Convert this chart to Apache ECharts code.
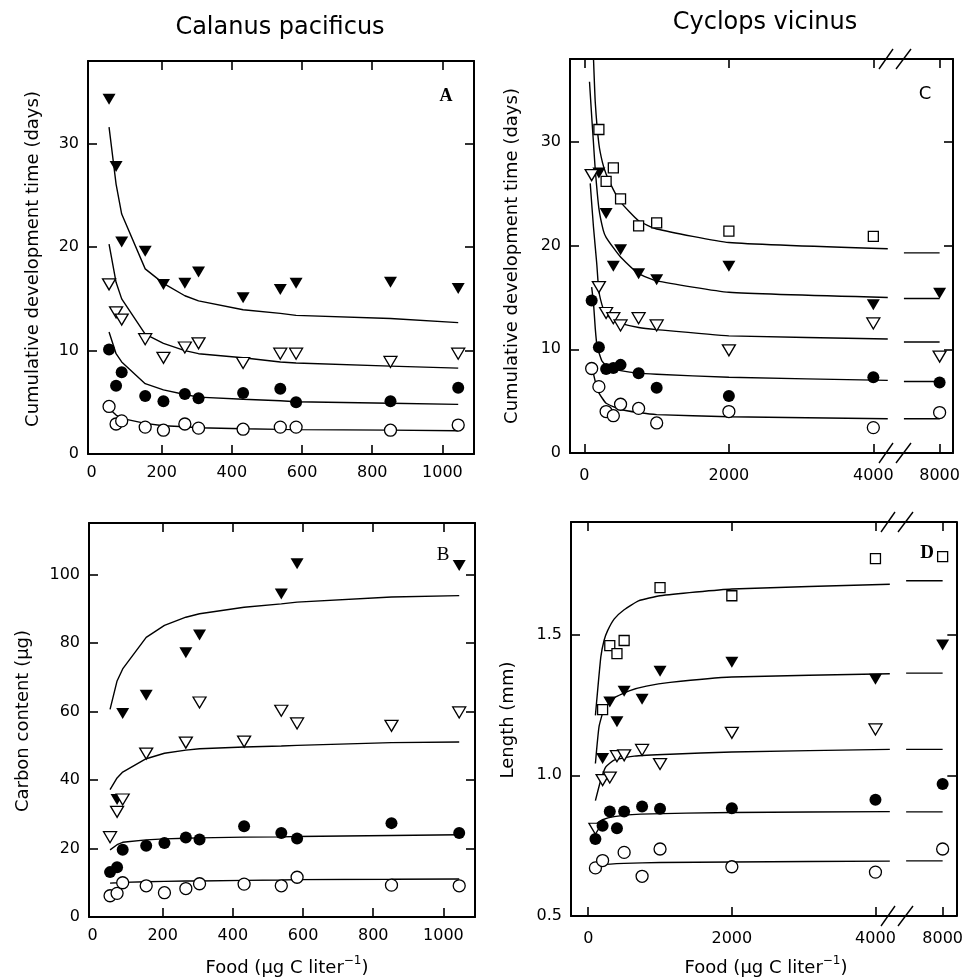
<!DOCTYPE html>
<html>
<head>
<meta charset="utf-8">
<script src="https://cdn.jsdelivr.net/npm/echarts@6/dist/echarts.min.js"></script>
<style>
  html, body { margin: 0; padding: 0; background: #fff; }
  #chart { width: 966px; height: 978px; }
</style>
</head>
<body>
<div id="chart"></div>
<script>
// ---------- Calanus pacificus (panels A and B) ----------
const calanusFood = [50, 70, 86, 153, 205, 266, 305, 432, 538, 583, 852, 1045];
const calanusXTicks = [0, 200, 400, 600, 800, 1000];

// A: cumulative development time (days)
const devFilledTriA    = [34.3, 27.8, 20.5, 19.6, 16.4, 16.5, 17.6, 15.1, 15.9, 16.5, 16.6, 16.0];
const devOpenTriA      = [16.4, 13.7, 13.0, 11.1, 9.3, 10.3, 10.7, 8.8, 9.7, 9.7, 8.9, 9.7];
const devFilledCircleA = [10.1, 6.6, 7.9, 5.6, 5.1, 5.8, 5.4, 5.9, 6.3, 5.0, 5.1, 6.4];
const devOpenCircleA   = [4.6, 2.9, 3.2, 2.6, 2.3, 2.9, 2.5, 2.4, 2.6, 2.6, 2.3, 2.8];

const fitFilledTriA    = [31.6, 26.1, 23.2, 17.9, 16.5, 15.3, 14.8, 13.95, 13.6, 13.4, 13.1, 12.7];
const fitOpenTriA      = [20.3, 16.6, 15.0, 11.6, 10.7, 10.0, 9.7, 9.3, 8.9, 8.8, 8.5, 8.3];
const fitFilledCircleA = [11.8, 9.7, 8.9, 6.8, 6.2, 5.75, 5.5, 5.3, 5.15, 5.05, 4.9, 4.8];
const fitOpenCircleA   = [4.4, 3.76, 3.44, 2.96, 2.73, 2.63, 2.54, 2.44, 2.38, 2.36, 2.31, 2.25];
const devYTicks = [0, 10, 20, 30];

// B: carbon content (ug)
const carbonFilledTri    = [null, 34.3, 59.4, 64.7, null, 77.1, 82.3, null, 94.3, 103.1, null, 102.6];
const carbonOpenTri      = [23.3, 30.7, 34.3, 47.7, null, 50.9, 62.6, 51.2, 60.2, 56.5, 55.8, 59.7];
const carbonFilledCircle = [13.1, 14.5, 19.6, 20.8, 21.6, 23.2, 22.6, 26.5, 24.5, 22.9, 27.4, 24.5];
const carbonOpenCircle   = [6.2, 6.9, 10.0, 9.1, 7.1, 8.3, 9.7, 9.6, 9.1, 11.6, 9.3, 9.1];

const fitCarbonFilledTri    = [60.6, 68.9, 72.4, 81.6, 85.1, 87.5, 88.5, 90.4, 91.4, 91.9, 93.4, 93.8];
const fitCarbonOpenTri      = [37.2, 40.6, 42.3, 46.2, 47.8, 48.7, 49.1, 49.6, 49.9, 50.1, 50.9, 51.1];
const fitCarbonFilledCircle = [19.6, 21.1, 21.8, 22.5, 22.8, 23.0, 23.1, 23.3, 23.4, 23.5, 23.8, 24.0];
const fitCarbonOpenCircle   = [9.9, 10.0, 10.1, 10.3, 10.4, 10.5, 10.5, 10.7, 10.8, 10.9, 11.0, 11.1];
const carbonYTicks = [0, 20, 40, 60, 80, 100];

// ---------- Cyclops vicinus (panels C and D) ----------
const cyclopsFood = [100, 200, 300, 400, 500, 750, 1000, 2000, 4000];
const cyclopsXTicks = [0, 2000, 4000];
const cyclopsHighFood = [8000];             // shown beyond the axis break
const cyclopsHighFit = [6400, 8000];        // fitted level drawn beyond the break

// C: cumulative development time (days)
const devSquareC       = [null, 31.2, 26.2, 27.5, 24.5, 21.9, 22.2, 21.4, 20.9];
const devFilledTriC    = [null, 27.0, 23.1, 18.0, 19.6, 17.3, 16.7, 18.0, 14.3];
const devOpenTriC      = [26.8, 16.0, 13.5, 13.0, 12.3, 13.0, 12.3, 9.9, 12.5];
const devFilledCircleC = [14.7, 10.2, 8.1, 8.2, 8.5, 7.7, 6.3, 5.5, 7.3];
const devOpenCircleC   = [8.15, 6.4, 4.0, 3.6, 4.7, 4.3, 2.9, 4.0, 2.45];
const devFilledTriC8000    = [15.4];
const devOpenTriC8000      = [9.3];
const devFilledCircleC8000 = [6.8];
const devOpenCircleC8000   = [3.9];

const fitSquareCx = [100, 125, 150, 200, 250, 300, 400, 500, 750, 1000, 2000, 4200];
const fitSquareC  = [43, 38.1, 33.8, 29.8, 28.0, 26.9, 25.4, 24.2, 22.4, 21.6, 20.3, 19.7];
const fitFilledTriCx = [70, 100, 125, 150, 200, 260, 300, 400, 500, 750, 1000, 2000, 4200];
const fitFilledTriC  = [35.8, 32.5, 29.9, 27.3, 23.6, 21.5, 20.8, 19.8, 18.9, 17.3, 16.6, 15.5, 15.0];
const fitOpenTriCx = [80, 125, 170, 200, 260, 300, 400, 500, 750, 1000, 2000, 4200];
const fitOpenTriC  = [26.0, 21.8, 18.3, 15.6, 13.9, 13.4, 12.8, 12.5, 12.1, 11.9, 11.3, 11.0];
const fitFilledCircleCx = [100, 125, 150, 175, 240, 300, 400, 500, 750, 1000, 2000, 4200];
const fitFilledCircleC  = [16.0, 14.5, 12.0, 10.3, 8.9, 8.45, 8.15, 7.95, 7.7, 7.6, 7.3, 7.0];
const fitOpenCircleCx = [100, 150, 200, 300, 500, 750, 1000, 2000, 4200];
const fitOpenCircleC  = [8.4, 6.9, 5.8, 4.8, 4.2, 3.9, 3.7, 3.5, 3.3];
const fitSquareC8000       = [19.3, 19.3];
const fitFilledTriC8000    = [14.9, 14.9];
const fitOpenTriC8000      = [10.7, 10.7];
const fitFilledCircleC8000 = [6.9, 6.9];
const fitOpenCircleC8000   = [3.3, 3.3];

// D: length (mm)
const lenSquare       = [null, 1.233, 1.461, 1.432, 1.479, null, 1.667, 1.638, 1.770];
const lenFilledTri    = [null, 1.060, 1.260, 1.190, 1.299, 1.270, 1.370, 1.402, 1.341];
const lenOpenTri      = [0.81, 0.983, 0.992, 1.068, 1.071, 1.090, 1.040, 1.151, 1.163];
const lenFilledCircle = [0.774, 0.821, 0.871, 0.812, 0.871, 0.889, 0.881, 0.883, 0.913];
const lenOpenCircle   = [0.671, 0.697, null, null, 0.726, 0.641, 0.738, 0.675, 0.656];
const lenSquare8000       = [1.777];
const lenFilledTri8000    = [1.463];
const lenFilledCircle8000 = [0.969];
const lenOpenCircle8000   = [0.738];

const fitLenSquareX = [100, 175, 220, 270, 360, 500, 700, 1000, 2000, 4200];
const fitLenSquare  = [1.213, 1.42, 1.479, 1.514, 1.555, 1.588, 1.620, 1.638, 1.662, 1.679];
const fitLenFilledTriX = [100, 150, 220, 360, 590, 810, 1140, 2000, 4200];
const fitLenFilledTri  = [1.042, 1.172, 1.235, 1.275, 1.302, 1.317, 1.330, 1.349, 1.361];
const fitLenOpenTriX = [100, 175, 245, 360, 640, 1140, 2000, 4200];
const fitLenOpenTri  = [0.91, 0.983, 1.030, 1.054, 1.068, 1.075, 1.083, 1.092];
const fitLenFilledCircleX = [100, 200, 360, 730, 2000, 4200];
const fitLenFilledCircle  = [0.825, 0.842, 0.853, 0.862, 0.868, 0.871];
const fitLenOpenCircleX = [110, 200, 500, 1000, 2000, 4200];
const fitLenOpenCircle  = [0.672, 0.682, 0.687, 0.690, 0.692, 0.695];
const fitLenSquare8000       = [1.691, 1.691];
const fitLenFilledTri8000    = [1.363, 1.363];
const fitLenOpenTri8000      = [1.092, 1.092];
const fitLenFilledCircle8000 = [0.870, 0.870];
const fitLenOpenCircle8000   = [0.696, 0.696];
const lenYTicks = [0.5, 1.0, 1.5];

// ---------- chart construction ----------
const FONT = "'DejaVu Sans', 'Liberation Sans', sans-serif";
const SERIF = "'Liberation Serif', 'DejaVu Serif', serif";
const BLACK = '#000';

const MARKERS = {
  filledTri:    { symbol: 'triangle', symbolRotate: 180, symbolSize: [13, 11], itemStyle: { color: BLACK, opacity: 1 } },
  openTri:      { symbol: 'triangle', symbolRotate: 180, symbolSize: [13, 11], itemStyle: { color: '#fff', borderColor: BLACK, borderWidth: 1.3, opacity: 1 } },
  filledCircle: { symbol: 'circle', symbolSize: 12, itemStyle: { color: BLACK, opacity: 1 } },
  openCircle:   { symbol: 'circle', symbolSize: 12, itemStyle: { color: '#fff', borderColor: BLACK, borderWidth: 1.3, opacity: 1 } },
  openSquare:   { symbol: 'rect', symbolSize: 10, itemStyle: { color: '#fff', borderColor: BLACK, borderWidth: 1.3, opacity: 1 } }
};

const grids = [], xAxes = [], yAxes = [], series = [], graphic = [];

function pairs(xs, ys) {
  const out = [];
  xs.forEach((x, i) => { if (ys[i] != null) out.push([x, ys[i]]); });
  return out;
}

// Frame side: axis line, inward ticks at tickVals, optional labels
function axisCfg(gridIndex, position, min, max, tickVals, labelVals, margin, fmt) {
  return {
    type: 'value', gridIndex, position, min, max,
    axisLine: { show: true, onZero: false, lineStyle: { color: BLACK, width: 2 } },
    axisTick: tickVals && tickVals.length
      ? { show: true, inside: true, length: 9, customValues: tickVals, lineStyle: { color: BLACK, width: 1.6 } }
      : { show: false },
    axisLabel: labelVals
      ? { show: true, customValues: labelVals, margin, color: BLACK, fontSize: 16, fontFamily: FONT,
          formatter: fmt || (v => String(v)) }
      : { show: false },
    splitLine: { show: false }
  };
}
const addX = (...a) => xAxes.push(axisCfg(...a)) - 1;
const addY = (...a) => yAxes.push(axisCfg(...a)) - 1;

function addPoints(xs, ys, marker, xi, yi) {
  series.push(Object.assign({
    type: 'scatter', xAxisIndex: xi, yAxisIndex: yi, data: pairs(xs, ys),
    clip: false, z: 4, silent: true
  }, MARKERS[marker]));
}

function addCurve(xs, ys, xi, yi, smooth) {
  series.push({
    type: 'line', xAxisIndex: xi, yAxisIndex: yi, data: pairs(xs, ys),
    showSymbol: false, symbol: 'none', smooth: smooth || false,
    clip: true, z: 3, silent: true,
    lineStyle: { color: BLACK, width: 1.4 }
  });
}

function addText(text, x, y, style, rotation) {
  graphic.push({
    type: 'text', x, y, rotation: rotation || 0, silent: true, z: 20,
    style: Object.assign({
      text, fill: BLACK, fontFamily: FONT, fontSize: 18,
      align: 'center', verticalAlign: 'middle',
      textAlign: 'center', textVerticalAlign: 'middle'
    }, style || {})
  });
}

function addBreak(xJoin, y) {
  [[-16, -2], [1, 16]].forEach(([a, b]) => {
    graphic.push({
      type: 'line', silent: true, z: 20,
      shape: { x1: xJoin + a, y1: y + 10, x2: xJoin + b, y2: y - 10 },
      style: { stroke: BLACK, lineWidth: 1.4 }
    });
  });
}

const SMOOTH_C = 0.15;

// Panel A
grids.push({ left: 88, top: 61, width: 386, height: 393 });
const axA = addX(0, 'bottom', -10, 1090, calanusXTicks.slice(1), calanusXTicks, 11);
addX(0, 'top', -10, 1090, calanusXTicks.slice(1), null);
const ayA = addY(0, 'left', 0, 38, devYTicks.slice(1), devYTicks, 9);
addY(0, 'right', 0, 38, devYTicks.slice(1), null);
addCurve(calanusFood, fitFilledTriA, axA, ayA);
addCurve(calanusFood, fitOpenTriA, axA, ayA);
addCurve(calanusFood, fitFilledCircleA, axA, ayA);
addCurve(calanusFood, fitOpenCircleA, axA, ayA);
addPoints(calanusFood, devFilledTriA, 'filledTri', axA, ayA);
addPoints(calanusFood, devOpenTriA, 'openTri', axA, ayA);
addPoints(calanusFood, devFilledCircleA, 'filledCircle', axA, ayA);
addPoints(calanusFood, devOpenCircleA, 'openCircle', axA, ayA);

// Panel B
grids.push({ left: 89, top: 523, width: 386, height: 394 });
const axB = addX(1, 'bottom', -10, 1090, calanusXTicks.slice(1), calanusXTicks, 11);
addX(1, 'top', -10, 1090, calanusXTicks.slice(1), null);
const ayB = addY(1, 'left', 0, 115, carbonYTicks.slice(1), carbonYTicks, 9);
addY(1, 'right', 0, 115, carbonYTicks.slice(1), null);
addCurve(calanusFood, fitCarbonFilledTri, axB, ayB);
addCurve(calanusFood, fitCarbonOpenTri, axB, ayB);
addCurve(calanusFood, fitCarbonFilledCircle, axB, ayB);
addCurve(calanusFood, fitCarbonOpenCircle, axB, ayB);
addPoints(calanusFood, carbonFilledTri, 'filledTri', axB, ayB);
addPoints(calanusFood, carbonOpenTri, 'openTri', axB, ayB);
addPoints(calanusFood, carbonFilledCircle, 'filledCircle', axB, ayB);
addPoints(calanusFood, carbonOpenCircle, 'openCircle', axB, ayB);

// Panel C (main range + range beyond the break)
const gC1 = { left: 570, top: 59, width: 325, height: 394 };
const gC2 = { left: 895, top: 59, width: 58, height: 394 };
grids.push(gC1, gC2);
const axC1 = addX(2, 'bottom', -200, 4300, cyclopsXTicks, cyclopsXTicks, 15);
addX(2, 'top', -200, 4300, cyclopsXTicks, null);
const ayC1 = addY(2, 'left', 0, 38, devYTicks.slice(1), devYTicks, 9);
const axC2 = addX(3, 'bottom', 6000, 8600, cyclopsHighFood, cyclopsHighFood, 15);
addX(3, 'top', 6000, 8600, cyclopsHighFood, null);
const ayC2 = addY(3, 'right', 0, 38, devYTicks.slice(1), null);

addCurve(fitSquareCx, fitSquareC, axC1, ayC1, SMOOTH_C);
addCurve(fitFilledTriCx, fitFilledTriC, axC1, ayC1, SMOOTH_C);
addCurve(fitOpenTriCx, fitOpenTriC, axC1, ayC1, SMOOTH_C);
addCurve(fitFilledCircleCx, fitFilledCircleC, axC1, ayC1, SMOOTH_C);
addCurve(fitOpenCircleCx, fitOpenCircleC, axC1, ayC1, SMOOTH_C);
addPoints(cyclopsFood, devSquareC, 'openSquare', axC1, ayC1);
addPoints(cyclopsFood, devFilledTriC, 'filledTri', axC1, ayC1);
addPoints(cyclopsFood, devOpenTriC, 'openTri', axC1, ayC1);
addPoints(cyclopsFood, devFilledCircleC, 'filledCircle', axC1, ayC1);
addPoints(cyclopsFood, devOpenCircleC, 'openCircle', axC1, ayC1);

addCurve(cyclopsHighFit, fitSquareC8000, axC2, ayC2);
addCurve(cyclopsHighFit, fitFilledTriC8000, axC2, ayC2);
addCurve(cyclopsHighFit, fitOpenTriC8000, axC2, ayC2);
addCurve(cyclopsHighFit, fitFilledCircleC8000, axC2, ayC2);
addCurve(cyclopsHighFit, fitOpenCircleC8000, axC2, ayC2);
addPoints(cyclopsHighFood, devFilledTriC8000, 'filledTri', axC2, ayC2);
addPoints(cyclopsHighFood, devOpenTriC8000, 'openTri', axC2, ayC2);
addPoints(cyclopsHighFood, devFilledCircleC8000, 'filledCircle', axC2, ayC2);
addPoints(cyclopsHighFood, devOpenCircleC8000, 'openCircle', axC2, ayC2);

// Panel D (main range + range beyond the break)
const gD1 = { left: 571, top: 522, width: 326, height: 394 };
const gD2 = { left: 897, top: 522, width: 60, height: 394 };
grids.push(gD1, gD2);
const fmtLen = v => v.toFixed(1);
const axD1 = addX(4, 'bottom', -240, 4300, cyclopsXTicks, cyclopsXTicks, 15);
addX(4, 'top', -240, 4300, cyclopsXTicks, null);
const ayD1 = addY(4, 'left', 0.5, 1.9, lenYTicks.slice(1), lenYTicks, 9, fmtLen);
const axD2 = addX(5, 'bottom', 6000, 8600, cyclopsHighFood, cyclopsHighFood, 15);
addX(5, 'top', 6000, 8600, cyclopsHighFood, null);
const ayD2 = addY(5, 'right', 0.5, 1.9, lenYTicks.slice(1), null);

addCurve(fitLenSquareX, fitLenSquare, axD1, ayD1, SMOOTH_C);
addCurve(fitLenFilledTriX, fitLenFilledTri, axD1, ayD1, SMOOTH_C);
addCurve(fitLenOpenTriX, fitLenOpenTri, axD1, ayD1, SMOOTH_C);
addCurve(fitLenFilledCircleX, fitLenFilledCircle, axD1, ayD1, SMOOTH_C);
addCurve(fitLenOpenCircleX, fitLenOpenCircle, axD1, ayD1, SMOOTH_C);
addPoints(cyclopsFood, lenSquare, 'openSquare', axD1, ayD1);
addPoints(cyclopsFood, lenFilledTri, 'filledTri', axD1, ayD1);
addPoints(cyclopsFood, lenOpenTri, 'openTri', axD1, ayD1);
addPoints(cyclopsFood, lenFilledCircle, 'filledCircle', axD1, ayD1);
addPoints(cyclopsFood, lenOpenCircle, 'openCircle', axD1, ayD1);

addCurve(cyclopsHighFit, fitLenSquare8000, axD2, ayD2);
addCurve(cyclopsHighFit, fitLenFilledTri8000, axD2, ayD2);
addCurve(cyclopsHighFit, fitLenOpenTri8000, axD2, ayD2);
addCurve(cyclopsHighFit, fitLenFilledCircle8000, axD2, ayD2);
addCurve(cyclopsHighFit, fitLenOpenCircle8000, axD2, ayD2);
addPoints(cyclopsHighFood, lenSquare8000, 'openSquare', axD2, ayD2);
addPoints(cyclopsHighFood, lenFilledTri8000, 'filledTri', axD2, ayD2);
addPoints(cyclopsHighFood, lenFilledCircle8000, 'filledCircle', axD2, ayD2);
addPoints(cyclopsHighFood, lenOpenCircle8000, 'openCircle', axD2, ayD2);

// Column titles
addText('Calanus pacificus', 280, 28, { fontSize: 24 });
addText('Cyclops vicinus', 765, 23, { fontSize: 24 });

// Axis names
const ROT = Math.PI / 2;
addText('Cumulative development time (days)', 33, 259, { fontSize: 18 }, ROT);
addText('Carbon content (\u03bcg)', 23, 721, { fontSize: 18 }, ROT);
addText('Cumulative development time (days)', 512, 256, { fontSize: 18 }, ROT);
addText('Length (mm)', 508, 720, { fontSize: 18 }, ROT);

const foodName = '{n|Food (\u03bcg C liter}{s|\u22121}{n|)}';
const foodRich = {
  n: { fontSize: 18, fontFamily: FONT, fill: BLACK, color: BLACK, lineHeight: 26 },
  s: { fontSize: 12, fontFamily: FONT, fill: BLACK, color: BLACK, verticalAlign: 'top' }
};
addText(foodName, 287, 968, { rich: foodRich });
addText(foodName, 766, 968, { rich: foodRich });

// Panel letters
addText('A', 446, 96, { fontSize: 18, fontFamily: SERIF, fontWeight: 'bold' });
addText('B', 443, 555, { fontSize: 19, fontFamily: SERIF });
addText('C', 925, 94, { fontSize: 18 });
addText('D', 927, 553, { fontSize: 19, fontFamily: SERIF, fontWeight: 'bold' });

// Axis break marks where the food axis jumps to 8000
addBreak(gC1.left + gC1.width, gC1.top);
addBreak(gC1.left + gC1.width, gC1.top + gC1.height);
addBreak(gD1.left + gD1.width, gD1.top);
addBreak(gD1.left + gD1.width, gD1.top + gD1.height);

const chart = echarts.init(document.getElementById('chart'));
chart.setOption({
  animation: false,
  backgroundColor: '#fff',
  textStyle: { fontFamily: FONT, color: BLACK },
  grid: grids,
  xAxis: xAxes,
  yAxis: yAxes,
  series,
  graphic
});
</script>
</body>
</html>
